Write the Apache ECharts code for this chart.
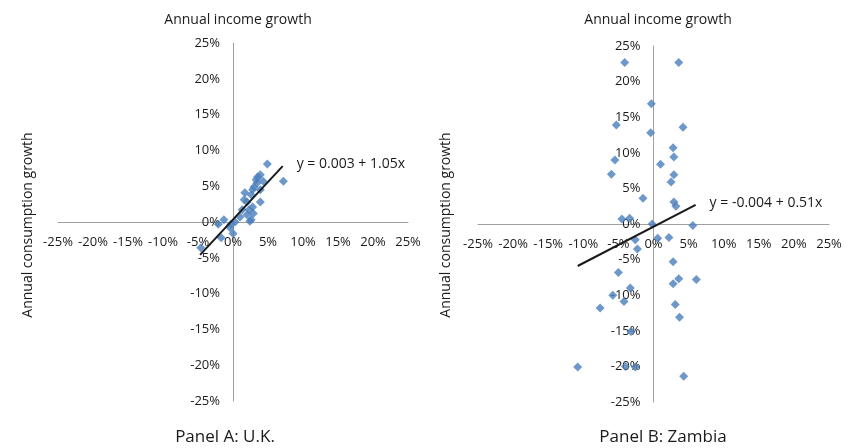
<!DOCTYPE html>
<html>
<head>
    <meta charset="utf-8">
    <title>Income vs consumption growth</title>
    <script src="https://cdn.jsdelivr.net/npm/echarts@6/dist/echarts.min.js"></script>
</head>
<body style="margin:0;background:#fff">
<div id="main" style="width:851px;height:448px"></div>
<script type="text/javascript">
    // Panel A: U.K. points [income growth, consumption growth]
    var ukPoints = [
        [0.049, 0.081], [0.072, 0.057], [0.039, 0.066], [0.035, 0.063], [0.033, 0.059],
        [0.043, 0.057], [0.034, 0.054], [0.030, 0.049], [0.028, 0.045], [0.039, 0.045],
        [0.017, 0.041], [0.026, 0.038], [0.016, 0.031], [0.020, 0.028], [0.039, 0.028],
        [0.028, 0.021], [0.023, 0.017], [0.013, 0.017], [0.029, 0.012], [0.020, 0.010],
        [0.010, 0.007], [0.026, 0.003], [0.024, 0.001], [-0.013, 0.003], [0.003, 0.000],
        [-0.003, -0.003], [-0.021, -0.003], [-0.004, -0.008], [0.000, -0.016],
        [-0.017, -0.022], [-0.046, -0.036]
    ];
    // Panel B: Zambia points
    var zambiaPoints = [
        [-0.041, 0.227], [0.036, 0.227], [-0.003, 0.169], [-0.053, 0.139], [-0.004, 0.128],
        [0.042, 0.136], [0.028, 0.107], [-0.055, 0.090], [0.029, 0.094], [0.010, 0.084],
        [-0.060, 0.070], [0.029, 0.069], [0.025, 0.059], [-0.015, 0.036], [0.029, 0.031],
        [0.032, 0.025], [-0.045, 0.007], [-0.034, 0.008], [-0.002, 0.000], [0.056, -0.002],
        [0.006, -0.020], [0.022, -0.019], [-0.026, -0.022], [-0.023, -0.035], [0.028, -0.053],
        [-0.050, -0.068], [0.036, -0.077], [0.061, -0.078], [0.028, -0.084], [-0.033, -0.090],
        [-0.058, -0.100], [-0.042, -0.109], [0.031, -0.113], [-0.076, -0.118], [0.037, -0.131],
        [-0.032, -0.151], [-0.108, -0.201], [-0.040, -0.200], [-0.026, -0.201], [0.043, -0.214]
    ];
    // fitted lines, end points as drawn
    var ukFit = [[-0.047, -0.046], [0.071, 0.078]];
    var zambiaFit = [[-0.108, -0.059], [0.060, 0.027]];
    var ukEquation = 'y = 0.003 + 1.05x';
    var zambiaEquation = 'y = -0.004 + 0.51x';
    var axisTicks = [-0.25, 0.25, 0.05];

    var font = "'Open Sans', sans-serif";
    var grids = [
        {left: 58, top: 43, width: 350, height: 358},
        {left: 478, top: 46, width: 351, height: 356}
    ];
    var myChart = echarts.init(document.getElementById('main'));

    function pct(v) {
        return Math.round(v * 100) + '%';
    }

    // axes cross at zero: shift each axis (line + labels) into the middle of its grid
    function xAxisFor(i) {
        return {
            gridIndex: i, type: 'value', position: 'bottom',
            offset: -grids[i].height / 2,
            min: axisTicks[0], max: axisTicks[1], interval: axisTicks[2],
            axisLine: {onZero: false, lineStyle: {color: '#a0a0a0', width: 1}},
            axisTick: {show: false},
            splitLine: {show: false},
            axisLabel: {formatter: pct, color: '#1a1a1a', fontSize: 13, fontFamily: font, margin: 14}
        };
    }

    function yAxisFor(i) {
        return {
            gridIndex: i, type: 'value', position: 'left',
            offset: -grids[i].width / 2,
            min: axisTicks[0], max: axisTicks[1], interval: axisTicks[2],
            axisLine: {onZero: false, lineStyle: {color: '#a0a0a0', width: 1}},
            axisTick: {show: false},
            splitLine: {show: false},
            axisLabel: {formatter: pct, color: '#1a1a1a', fontSize: 13, fontFamily: font, margin: 13}
        };
    }

    function fitSeries(i, pts, text) {
        return {
            type: 'line', xAxisIndex: i, yAxisIndex: i,
            data: pts,
            symbol: 'none', silent: true,
            lineStyle: {color: '#1a1a1a', width: 2},
            endLabel: {
                show: true, formatter: text, distance: 14, offset: [0, -2],
                color: '#1a1a1a', fontSize: 14, fontFamily: font
            },
            z: 3
        };
    }

    function scatterSeries(i, pts) {
        return {
            type: 'scatter', xAxisIndex: i, yAxisIndex: i,
            data: pts, symbol: 'diamond', symbolSize: 9,
            itemStyle: {color: '#4A7EBB'},
            z: 2
        };
    }

    var titleStyle = {color: '#1a1a1a', fontSize: 14, fontWeight: 'normal', fontFamily: font};
    var captionStyle = {color: '#1a1a1a', fontSize: 17, fontWeight: 'normal', fontFamily: font};

    var option = {
        backgroundColor: '#fff',
        animation: false,
        title: [
            {text: 'Annual income growth', left: 233, top: 8, textAlign: 'center', textStyle: titleStyle},
            {text: 'Annual income growth', left: 653, top: 8, textAlign: 'center', textStyle: titleStyle},
            {text: 'Panel A: U.K.', left: 220, top: 424, textAlign: 'center', textStyle: captionStyle},
            {text: 'Panel B: Zambia', left: 658, top: 424, textAlign: 'center', textStyle: captionStyle}
        ],
        graphic: [
            {type: 'text', x: 28, y: 225, rotation: Math.PI / 2,
                style: {text: 'Annual consumption growth', fill: '#1a1a1a', font: '14px ' + font,
                    align: 'center', verticalAlign: 'middle'}},
            {type: 'text', x: 446, y: 225, rotation: Math.PI / 2,
                style: {text: 'Annual consumption growth', fill: '#1a1a1a', font: '14px ' + font,
                    align: 'center', verticalAlign: 'middle'}}
        ],
        grid: grids,
        xAxis: [xAxisFor(0), xAxisFor(1)],
        yAxis: [yAxisFor(0), yAxisFor(1)],
        series: [
            fitSeries(0, ukFit, ukEquation),
            scatterSeries(0, ukPoints),
            fitSeries(1, zambiaFit, zambiaEquation),
            scatterSeries(1, zambiaPoints)
        ]
    };

    myChart.setOption(option);
</script>
</body>
</html>
